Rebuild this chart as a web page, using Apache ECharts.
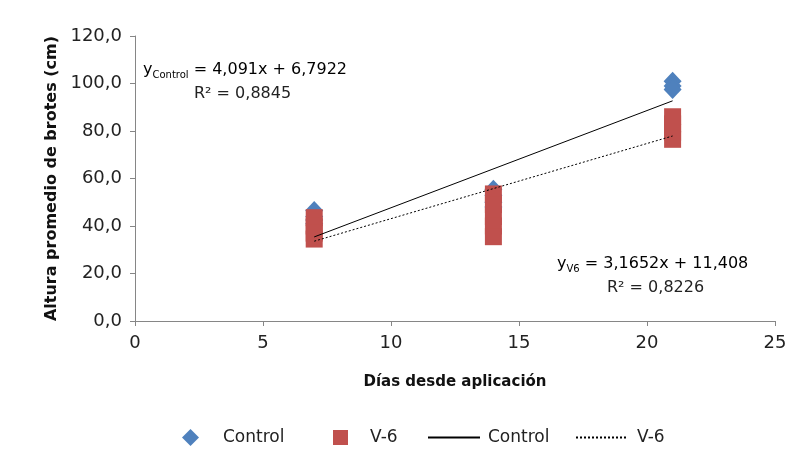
<!DOCTYPE html>
<html>
<head>
<meta charset="utf-8">
<script src="https://cdn.jsdelivr.net/npm/echarts@6/dist/echarts.min.js"></script>
<style>html,body{margin:0;padding:0;background:#fff}#c{width:795px;height:461px}</style>
</head>
<body>
<div id="c"></div>
<script>
// ---- data ----
var controlDays = [7, 7, 7, 7, 14, 14, 14, 14, 21, 21, 21];
var controlValues = [46.5, 44, 42.5, 41, 55.5, 53, 50, 48, 101, 99, 97.5];
var v6Days = [7, 7, 7, 7, 14, 14, 14, 14, 14, 21, 21, 21, 21];
var v6Values = [43.5, 40, 37, 34.5, 53.5, 49, 44, 40, 35.5, 86, 83, 79.5, 76.5];
var trendDays = [7, 21];
var controlTrend = [35.4, 92.7];
var v6Trend = [33.6, 77.9];
var xTicks = [0, 5, 10, 15, 20, 25];
var yTicks = [0, 20, 40, 60, 80, 100, 120];
var seriesNames = ['Control', 'V-6', 'Control ', 'V-6 '];

function pairs(xs, ys) { return xs.map(function (x, i) { return [x, ys[i]]; }); }

var FONT = 'DejaVu Sans';
var chart = echarts.init(document.getElementById('c'), null, {renderer: 'canvas'});

function legendAt(left, item, w, h, padLeft) {
  return {
    left: left, top: 429, orient: 'horizontal', padding: 0,
    data: [item], selectedMode: false, itemWidth: w, itemHeight: h,
    textStyle: {fontFamily: FONT, fontSize: 17, color: '#222', padding: [0, 0, 0, padLeft]},
    formatter: function (n) { return n.trim(); }
  };
}

chart.setOption({
  animation: false,
  grid: {left: 135, right: 20, top: 36, bottom: 140, containLabel: false},
  xAxis: {
    type: 'value', min: xTicks[0], max: xTicks[xTicks.length - 1], interval: 5,
    name: 'Días desde aplicación', nameLocation: 'middle', nameGap: 54,
    nameTextStyle: {fontFamily: FONT, fontSize: 15, fontWeight: 'bold', color: '#111'},
    axisLine: {onZero: false, lineStyle: {color: '#868686', width: 1}},
    axisTick: {show: true, length: 5, lineStyle: {color: '#868686'}},
    axisLabel: {fontFamily: FONT, fontSize: 18, color: '#222', margin: 13},
    splitLine: {show: false}
  },
  yAxis: {
    type: 'value', min: yTicks[0], max: yTicks[yTicks.length - 1], interval: 20,
    name: 'Altura promedio de brotes (cm)', nameLocation: 'middle', nameGap: 75, nameRotate: 90,
    nameTextStyle: {fontFamily: FONT, fontSize: 16, fontWeight: 'bold', color: '#111'},
    axisLine: {show: true, lineStyle: {color: '#868686', width: 1}},
    axisTick: {show: true, length: 5, lineStyle: {color: '#868686'}},
    axisLabel: {fontFamily: FONT, fontSize: 18, color: '#222', margin: 13,
      formatter: function (v) { return v.toFixed(1).replace('.', ','); }},
    splitLine: {show: false}
  },
  legend: [
    legendAt(182, {name: seriesNames[0]}, 17, 17, 19),
    legendAt(333, {name: seriesNames[1]}, 15, 15, 17),
    legendAt(427, {name: seriesNames[2], itemStyle: {opacity: 0}}, 52, 14, 3),
    legendAt(575, {name: seriesNames[3], itemStyle: {opacity: 0}}, 52, 14, 4)
  ],
  series: [
    {name: seriesNames[0], type: 'scatter', symbol: 'diamond', symbolSize: [18, 19],
     itemStyle: {color: '#4F81BD', opacity: 1}, data: pairs(controlDays, controlValues)},
    {name: seriesNames[1], type: 'scatter', symbol: 'rect', symbolSize: 17,
     itemStyle: {color: '#C0504D', opacity: 1}, data: pairs(v6Days, v6Values)},
    {name: seriesNames[2], type: 'line', symbol: 'none', showSymbol: false,
     lineStyle: {color: '#000', width: 1}, itemStyle: {color: '#000'},
     data: pairs(trendDays, controlTrend)},
    {name: seriesNames[3], type: 'line', symbol: 'none', showSymbol: false,
     lineStyle: {color: '#000', width: 1, type: [2, 2]}, itemStyle: {color: '#000'},
     data: pairs(trendDays, v6Trend)}
  ],
  graphic: [
    {type: 'text', left: 143, top: 62, z: 10,
     style: {text: '{m|y}{s|Control}{m| = 4,091x + 6,7922}',
       rich: {m: {fontFamily: FONT, fontSize: 16, color: '#222', lineHeight: 20},
              s: {fontFamily: FONT, fontSize: 10, color: '#222', lineHeight: 14, verticalAlign: 'bottom'}}}},
    {type: 'text', left: 194, top: 86, z: 10,
     style: {text: 'R² = 0,8845', fontFamily: FONT, fontSize: 16, fill: '#222'}},
    {type: 'text', left: 557, top: 256, z: 10,
     style: {text: '{m|y}{s|V6}{m| = 3,1652x + 11,408}',
       rich: {m: {fontFamily: FONT, fontSize: 16, color: '#222', lineHeight: 20},
              s: {fontFamily: FONT, fontSize: 10, color: '#222', lineHeight: 14, verticalAlign: 'bottom'}}}},
    {type: 'text', left: 607, top: 280, z: 10,
     style: {text: 'R² = 0,8226', fontFamily: FONT, fontSize: 16, fill: '#222'}}
  ]
});
</script>
</body>
</html>
